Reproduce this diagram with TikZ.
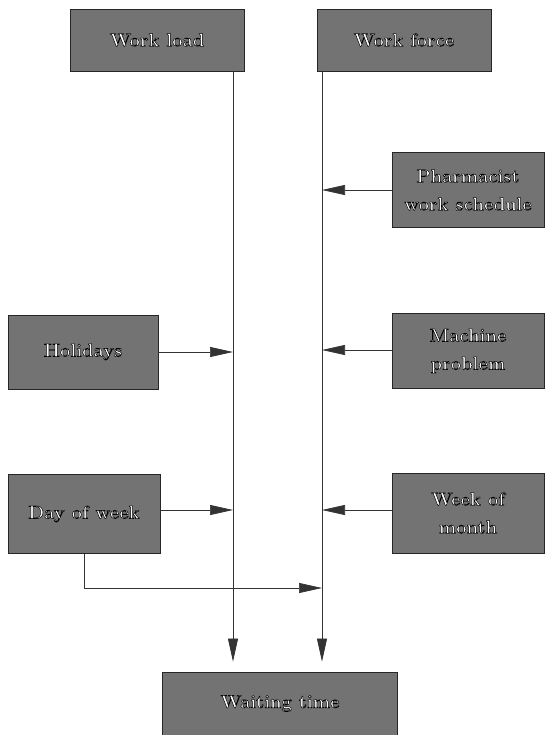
\documentclass[tikz,border=0pt]{standalone}
\usetikzlibrary{arrows.meta}
\tikzset{
  gbox/.style={draw=black!85, line width=0.8pt, fill=black!55, align=center,
    inner sep=0pt, font=\fontsize{18.5}{28}\selectfont\bfseries, text=white},
  conn/.style={draw=black!80, line width=0.7pt},
  arr/.style={conn, -{Triangle[length=23pt,width=10pt]}},
}
\newcommand{\ot}[1]{\special{pdf:literal direct 0 G 0.5 w 2 Tr}#1\special{pdf:literal direct 0 Tr}}
\begin{document}
\begin{tikzpicture}[x=1pt,y=-1pt]
\useasboundingbox (0,0) rectangle (547,735);
\node[gbox, minimum width=174pt, minimum height=62pt] (wl) at (157,40) {\ot{Work load}};
\node[gbox, minimum width=174pt, minimum height=62pt] (wf) at (404,40) {\ot{Work force}};
\node[gbox, minimum width=152pt, minimum height=75pt] (ph) at (468,190) {\ot{Pharmacist}\\\ot{work schedule}};
\node[gbox, minimum width=150pt, minimum height=74pt] (ho) at (83,352) {\ot{Holidays}};
\node[gbox, minimum width=152pt, minimum height=75pt] (mp) at (468,351) {\ot{Machine}\\\ot{problem}};
\node[gbox, minimum width=152pt, minimum height=79pt] (dw) at (84,514) {\ot{Day of week}};
\node[gbox, minimum width=152pt, minimum height=80pt] (wm) at (468,513) {\ot{Week of}\\\ot{month}};
\node[gbox, minimum width=235pt, minimum height=63pt] (wt) at (280,703.5) {\ot{Waiting time}};

\coordinate (L) at (233,0);
\coordinate (R) at (322,0);
\coordinate (B) at (322,588);
\coordinate (S) at (84,588);

\draw[arr, shorten >=10pt] (wl.south -| L) -- (wt.north -| L);
\draw[arr, shorten >=10pt] (wf.south -| R) -- (wt.north -| R);

\draw[arr] (ph.west |- 0,190) -- (R |- 0,190);
\draw[arr] (ho.east |- 0,352) -- (L |- 0,352);
\draw[arr] (mp.west |- 0,350) -- (R |- 0,350);
\draw[arr] (dw.east |- 0,510) -- (L |- 0,510);
\draw[arr] (wm.west |- 0,510) -- (R |- 0,510);
\draw[arr] (dw.south) -- (S) -- (B);
\end{tikzpicture}
\end{document}
